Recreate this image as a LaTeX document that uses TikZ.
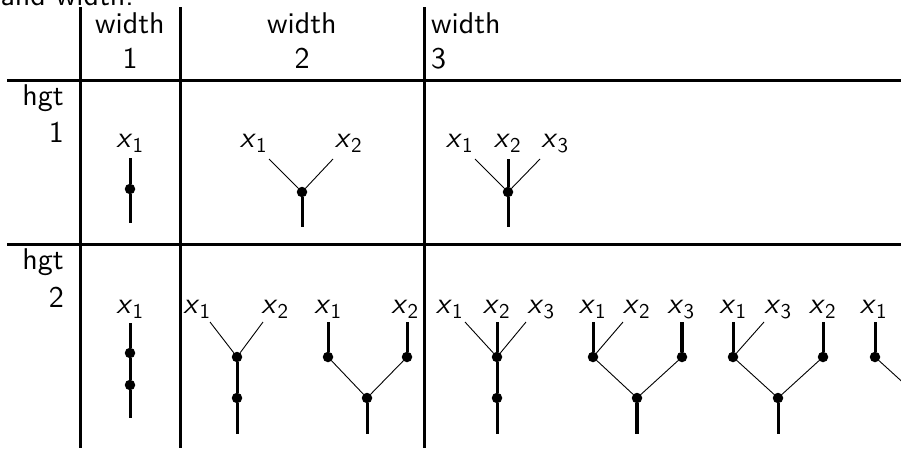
\documentclass[tikz,border=0pt]{standalone}
\usepackage{fontspec}
% sans face at its 10pt design size, scaled up
\setsansfont{lmsans10-regular.otf}[
  BoldFont=lmsans10-bold.otf,
  ItalicFont=lmsans10-oblique.otf,
  SlantedFont=lmsans10-oblique.otf]
% leaf label: sans-serif slanted x with an index
\newcommand\leafx[1]{\textsl{x}\textsubscript{#1}}
\begin{document}
\begin{tikzpicture}[x=1pt,y=-1pt,
  rule/.style={line width=3pt},
  stem/.style={line width=3pt},
  twig/.style={line width=0.9pt},
  dot/.style={circle,fill,inner sep=0pt,minimum size=10.5pt},
  txt/.style={inner sep=0pt,font=\sffamily\fontsize{30}{36}\selectfont},
  lbl/.style={txt,anchor=base},
  rowlbl/.style={txt,anchor=base east}]
\useasboundingbox (0,0) rectangle (901,448);
\clip (0,0) rectangle (901,448);

% caption line above the table
\node[txt,anchor=base east] (cap) at (134,5) {and width.};

% table rules
\draw[rule] (80,7) -- (80,448);
\draw[rule] (180,7) -- (180,448);
\draw[rule] (424,7) -- (424,448);
\draw[rule] (7,80) -- (901,80);
\draw[rule] (7,244) -- (901,244);

% column headers
\node[lbl] (w1) at (130,33) {width};
\node[lbl] (n1) at (130,68) {1};
\node[lbl] (w2) at (302,33) {width};
\node[lbl] (n2) at (302,68) {2};
\node[txt,anchor=base west] (w3) at (431,33) {width};
\node[txt,anchor=base west] (n3) at (431,68) {3};

% row headers
\node[rowlbl] (h1) at (64,105) {hgt};
\node[rowlbl] (r1) at (64,142) {1};
\node[rowlbl] (h2) at (64,269) {hgt};
\node[rowlbl] (r2) at (64,307) {2};

% ---------- height 1 ----------
% width 1
\node[lbl] (p1l) at (130,147) {\leafx{1}};
\coordinate (p1t) at (130,158);
\node[dot] (p1d) at (130,189) {};
\coordinate (p1b) at (130,223);
\draw[stem] (p1t) -- (p1d);
\draw[stem] (p1d) -- (p1b);

% width 2
\node[lbl] (q1l) at (253.5,147) {\leafx{1}};
\node[lbl] (q2l) at (348.5,147) {\leafx{2}};
\coordinate (q1t) at (269,159);
\coordinate (q2t) at (333,159);
\node[dot] (qd) at (302,192) {};
\coordinate (qb) at (302,227);
\draw[twig] (q1t) -- (qd);
\draw[twig] (q2t) -- (qd);
\draw[stem] (qd) -- (qb);

% width 3
\node[lbl] (s1l) at (459.5,147) {\leafx{1}};
\node[lbl] (s2l) at (507.5,147) {\leafx{2}};
\node[lbl] (s3l) at (555,147) {\leafx{3}};
\coordinate (s1t) at (475,159);
\coordinate (s2t) at (508,159);
\coordinate (s3t) at (540,159);
\node[dot] (sd) at (508,192) {};
\coordinate (sb) at (508,227);
\draw[twig] (s1t) -- (sd);
\draw[twig] (s3t) -- (sd);
\draw[stem] (s2t) -- (sd);
\draw[stem] (sd) -- (sb);

% ---------- height 2 ----------
% width 1
\node[lbl] (u1l) at (130,313) {\leafx{1}};
\coordinate (ut) at (130,323);
\node[dot] (ud1) at (130,353) {};
\node[dot] (ud2) at (130,385) {};
\coordinate (ub) at (130,418);
\draw[stem] (ut) -- (ud1);
\draw[stem] (ud1) -- (ud2);
\draw[stem] (ud2) -- (ub);

% width 2, first tree
\node[lbl] (v1l) at (197,313) {\leafx{1}};
\node[lbl] (v2l) at (275,313) {\leafx{2}};
\coordinate (v1t) at (210,322);
\coordinate (v2t) at (263,322);
\node[dot] (vd1) at (237,357) {};
\node[dot] (vd2) at (237,398) {};
\coordinate (vb) at (237,434);
\draw[twig] (v1t) -- (vd1);
\draw[twig] (v2t) -- (vd1);
\draw[stem] (vd1) -- (vd2);
\draw[stem] (vd2) -- (vb);

% width 2, second tree
\node[lbl] (y1l) at (328,313) {\leafx{1}};
\node[lbl] (y2l) at (405,313) {\leafx{2}};
\coordinate (y1t) at (328,322);
\coordinate (y2t) at (407,322);
\node[dot] (y1d) at (328,357) {};
\node[dot] (y2d) at (407,357) {};
\node[dot] (yr) at (367,398) {};
\coordinate (yb) at (367,434);
\draw[stem] (y1t) -- (y1d);
\draw[stem] (y2t) -- (y2d);
\draw[twig] (y1d) -- (yr);
\draw[twig] (y2d) -- (yr);
\draw[stem] (yr) -- (yb);

% width 3, first tree
\node[lbl] (a1l) at (449.5,313) {\leafx{1}};
\node[lbl] (a2l) at (496.5,313) {\leafx{2}};
\node[lbl] (a3l) at (541,313) {\leafx{3}};
\coordinate (a1t) at (465,322);
\coordinate (a2t) at (497,322);
\coordinate (a3t) at (526,322);
\node[dot] (ad1) at (497,357) {};
\node[dot] (ad2) at (497,398) {};
\coordinate (ab) at (497,434);
\draw[twig] (a1t) -- (ad1);
\draw[twig] (a3t) -- (ad1);
\draw[stem] (a2t) -- (ad1);
\draw[stem] (ad1) -- (ad2);
\draw[stem] (ad2) -- (ab);

% width 3, second tree
\node[lbl] (b1l) at (592.5,313) {\leafx{1}};
\node[lbl] (b2l) at (636.5,313) {\leafx{2}};
\node[lbl] (b3l) at (681,313) {\leafx{3}};
\coordinate (b1t) at (593,322);
\coordinate (b2t) at (623,322);
\coordinate (b3t) at (682,322);
\node[dot] (bld) at (593,357) {};
\node[dot] (brd) at (682,357) {};
\node[dot] (br) at (637,398) {};
\coordinate (bb) at (637,434);
\draw[stem] (b1t) -- (bld);
\draw[twig] (b2t) -- (bld);
\draw[stem,line width=3.6pt] (b3t) -- (brd);
\draw[twig] (bld) -- (br);
\draw[twig] (brd) -- (br);
\draw[stem,line width=3.6pt] (br) -- (bb);

% width 3, third tree
\node[lbl] (c1l) at (733,313) {\leafx{1}};
\node[lbl] (c3l) at (778,313) {\leafx{3}};
\node[lbl] (c2l) at (822.5,313) {\leafx{2}};
\coordinate (c1t) at (733,322);
\coordinate (c3t) at (764,322);
\coordinate (c2t) at (823,322);
\node[dot] (cld) at (733,357) {};
\node[dot] (crd) at (823,357) {};
\node[dot] (cr) at (778,398) {};
\coordinate (cb) at (778,434);
\draw[stem] (c1t) -- (cld);
\draw[twig] (c3t) -- (cld);
\draw[stem] (c2t) -- (crd);
\draw[twig] (cld) -- (cr);
\draw[twig] (crd) -- (cr);
\draw[stem] (cr) -- (cb);

% width 3, fourth tree (runs past the right edge)
\node[lbl] (d1l) at (873.5,313) {\leafx{1}};
\coordinate (d1t) at (875,322);
\node[dot] (dld) at (875,357) {};
\coordinate (dr) at (920,398);
\draw[stem] (d1t) -- (dld);
\draw[twig] (dld) -- (dr);
\end{tikzpicture}
\end{document}
